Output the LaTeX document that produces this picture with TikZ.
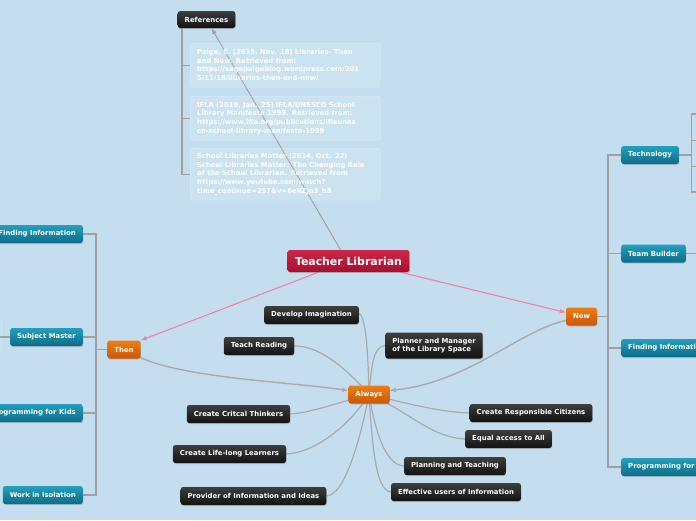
\documentclass[tikz,border=0pt]{standalone}
\usepackage{fontspec}
\setmainfont{DejaVu Sans}
\usetikzlibrary{arrows.meta,shadows,backgrounds}
\definecolor{bgblue}{RGB}{196,222,240}
\definecolor{tealT}{RGB}{34,160,190}
\definecolor{tealB}{RGB}{12,108,136}
\definecolor{orgT}{RGB}{240,125,18}
\definecolor{orgB}{RGB}{200,88,6}
\definecolor{darkT}{RGB}{62,62,62}
\definecolor{darkB}{RGB}{18,18,18}
\definecolor{crimT}{RGB}{206,40,74}
\definecolor{crimB}{RGB}{166,14,44}
\definecolor{linegray}{RGB}{160,160,160}
\definecolor{pinkline}{RGB}{240,128,176}
\tikzset{
  x=1pt, y=-1pt,
  base/.style={rounded corners=2.5pt, text=white, font=\bfseries\fontsize{6.9}{8.2}\selectfont,
    inner xsep=7pt, inner ysep=2pt, minimum height=18pt,
    drop shadow={opacity=0.35, shadow xshift=0.6pt, shadow yshift=-1pt}},
  darkbox/.style={base, top color=darkT, bottom color=darkB},
  tealbox/.style={base, top color=tealT, bottom color=tealB},
  orgbox/.style={base, top color=orgT, bottom color=orgB},
  rootbox/.style={base, top color=crimT, bottom color=crimB, minimum height=22pt,
    inner xsep=7.5pt, font=\bfseries\fontsize{10.9}{12}\selectfont},
  refbox/.style={rounded corners=3pt, draw=white, draw opacity=0.45, fill=white, fill opacity=0.12,
    text opacity=1, text=white, align=left, anchor=north west, inner xsep=7pt, inner ysep=4pt,
    text width=176pt, font=\bfseries\fontsize{6.8}{8.7}\selectfont},
  branch/.style={draw=linegray, line width=1.1pt},
  curve/.style={draw=linegray!90, line width=1.2pt},
  tip/.style={-{Latex[length=6pt,width=5pt]}},
}
\begin{document}
\begin{tikzpicture}
\useasboundingbox (0,0) rectangle (696,520);
\clip (0,0) rectangle (696,520);

% nodes
\node[rootbox] (tl) at (348.5,261) {Teacher Librarian};
\node[darkbox, minimum height=17pt] (refs) at (206.5,19.5) {References};
\node[refbox, minimum height=44pt] (ref1) at (190,43) {Paige, S. (2015, Nov. 18) Libraries- Then\\and Now. Retrieved from:\\https://sagepaigeblog.wordpress.com/201\\5/11/18/libraries-then-and-now/};
\node[refbox, minimum height=44pt] (ref2) at (190,96) {IFLA (2019, Jan. 25) IFLA/UNESCO School\\Library Manifesto 1999. Retrieved from:\\https://www.ifla.org/publications/iflaunes\\co-school-library-manifesto-1999};
\node[refbox, minimum height=52pt] (ref3) at (190,148) {School Libraries Matter (2014, Oct. 22)\\School Libraries Matter: The Changing Role\\of the School Librarian. Retrieved from\\https://www.youtube.com/watch?\\time\_continue=257\&v=6eIlZJp3\_h8};

\node[orgbox] (then) at (124,349.5) {Then};
\node[orgbox] (now) at (581.5,316.5) {Now};
\node[orgbox] (always) at (369,394.5) {Always};

\node[tealbox, anchor=east] (fi1) at (83,234) {Finding Information};
\node[tealbox, anchor=east] (sm) at (83,337) {Subject Master};
\node[tealbox, anchor=east] (pk1) at (83,413) {Programming for Kids};
\node[tealbox, anchor=east] (wi) at (83,495) {Work in Isolation};

\node[tealbox, anchor=west] (tech) at (621,155) {Technology};
\node[tealbox, anchor=west] (tb) at (621,253.5) {Team Builder};
\node[tealbox, anchor=west] (fi2) at (621,348) {Finding Information};
\node[tealbox, anchor=west] (pk2) at (621,467) {Programming for Kids};

\node[darkbox] (dev) at (311.5,315) {Develop Imagination};
\node[darkbox] (teach) at (259,346) {Teach Reading};
\node[darkbox, align=left, minimum height=26pt] (plan) at (434,345.5) {Planner and Manager\\of the Library Space};
\node[darkbox] (crit) at (238.5,414) {Create Critcal Thinkers};
\node[darkbox] (life) at (229.5,454) {Create Life-long Learners};
\node[darkbox] (prov) at (253.5,496) {Provider of Information and Ideas};
\node[darkbox] (resp) at (531,413) {Create Responsible Citizens};
\node[darkbox] (equal) at (508.5,439) {Equal access to All};
\node[darkbox] (pt) at (455,466) {Planning and Teaching};
\node[darkbox] (eff) at (456,492) {Effective users of Information};

% coordinates
\coordinate (rtop) at (182,28);
\coordinate (tbus) at (96,349.5);
\coordinate (nbus) at (608,316.5);
\coordinate (tkx) at (691.5,155);
\coordinate (tk1) at (696,114);
\coordinate (tk2) at (696,140.5);
\coordinate (tk3) at (696,166.5);
\coordinate (tk4) at (696,192);
\coordinate (tbend) at (696,253.5);
\coordinate (smend) at (0,337);

\begin{scope}[on background layer]
\fill[bgblue] (0,0) rectangle (696,520);
% partial box at far left
\draw[white, opacity=0.45, rounded corners=3pt] (-40,318) rectangle (1.5,350);
% branch lines
\draw[branch] (ref1.west) -| (rtop);
\draw[branch] (ref2.west) -| (rtop);
\draw[branch] (ref3.west) -| (rtop);
\draw[branch] (then.west) -- (tbus);
\foreach \n in {fi1,sm,pk1,wi} \draw[branch] (\n.east) -| (tbus);
\draw[branch] (now.east) -- (nbus);
\foreach \n in {tech,tb,fi2,pk2} \draw[branch] (\n.west) -| (nbus);
\draw[branch] (tech.east) -- (tkx);
\foreach \n in {tk1,tk2,tk3,tk4} \draw[branch] (\n) -| (tkx);
\draw[branch] (tb.east) -- (tbend);
\draw[branch] (sm.west) -- (smend);
% root connectors
\draw[draw=linegray, line width=1pt, tip] ([xshift=-8pt]tl.north) -- ([xshift=5pt]refs.south);
\draw[draw=pinkline, line width=1.1pt, tip] ([xshift=-30pt]tl.south) -- (then.north east);
\draw[draw=pinkline, line width=1.1pt, tip] ([xshift=52pt]tl.south) -- ([yshift=4pt]now.west);
% curved arrows to Always
\draw[curve, line width=1.4pt, tip] ([yshift=1pt]then.south east) .. controls (185,378) and (290,382) .. ([yshift=4pt]always.west);
\draw[curve, line width=1.4pt, tip] ([yshift=-4pt]now.west) .. controls (520,330) and (470,382) .. ([yshift=4pt]always.east);
% Always children
\draw[curve] (always.center) .. controls (368,350) and (366,318) .. ([yshift=2pt]dev.east);
\draw[curve] (always.center) .. controls (350,372) and (320,345) .. (teach.east);
\draw[curve] (always.center) .. controls (372,360) and (374,347) .. (plan.west);
\draw[curve] (always.center) .. controls (340,402) and (310,413) .. (crit.east);
\draw[curve] (always.center) .. controls (350,425) and (315,453) .. (life.east);
\draw[curve] (always.center) .. controls (360,440) and (345,495) .. (prov.east);
\draw[curve] (always.center) .. controls (410,404) and (440,412) .. (resp.west);
\draw[curve] (always.center) .. controls (410,412) and (430,437) .. (equal.west);
\draw[curve] (always.center) .. controls (375,430) and (385,465) .. (pt.west);
\draw[curve] (always.center) .. controls (372,440) and (375,491) .. (eff.west);
\end{scope}
\end{tikzpicture}
\end{document}
